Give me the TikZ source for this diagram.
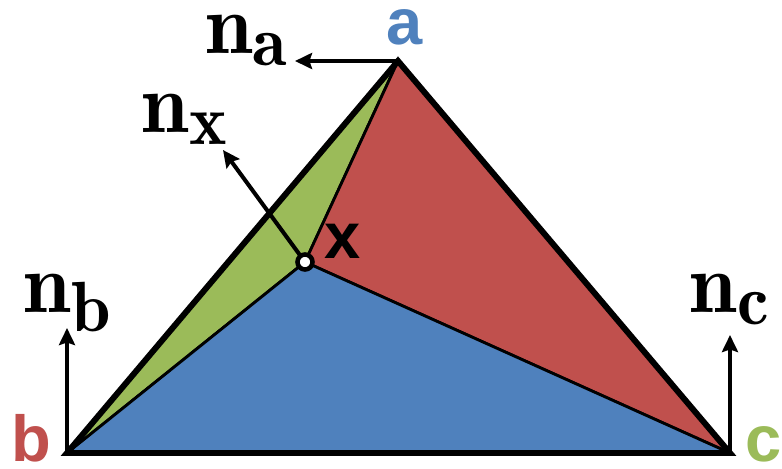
\documentclass[tikz,border=0pt]{standalone}
\usepackage{fontspec}
\newfontfamily\labelsans{Liberation Sans}
\usetikzlibrary{arrows.meta}

\definecolor{facegreen}{HTML}{9BBB59}
\definecolor{facered}{HTML}{C0504D}
\definecolor{faceblue}{HTML}{4F81BD}

\newcommand{\bignormal}[1]{\scalebox{1.95}{\Huge$\mathbf{n}_{\mathbf{#1}}$}}

\begin{document}
\begin{tikzpicture}[
    x=0.02cm, y=-0.02cm,
    face/.style={fill=#1, draw=black, line width=1.6pt, line join=round},
    edge/.style={draw=black, line width=3.4pt},
    normal/.style={-{Stealth[length=3.4mm, width=3.2mm, inset=0.5mm]}, line width=2.3pt},
    vlabel/.style={text=#1, font=\labelsans\bfseries\fontsize{37}{44}\selectfont,
        anchor=base, inner sep=0pt},
    nlabel/.style={anchor=base, inner sep=0pt}
]
\useasboundingbox (0,0) rectangle (782,468);

% Triangle corners and the inner point
\coordinate (a) at (398,61);
\coordinate (b) at (67,453);
\coordinate (c) at (730,453);
\coordinate (x) at (305,262);

% Tips of the normals
\coordinate (na) at (295,61);
\coordinate (nx) at (223,150);
\coordinate (nb) at (67,328);
\coordinate (nc) at (730,335);

% Three sub-triangles around x
\draw[face=facegreen] (a) -- (b) -- (x) -- cycle;
\draw[face=facered]   (a) -- (x) -- (c) -- cycle;
\draw[face=faceblue]  (b) -- (c) -- (x) -- cycle;

% Outer triangle
\draw[edge] (a) -- (b) -- (c) -- cycle;

% Normals
\draw[normal] (a) -- (na);
\draw[normal] (x) -- (nx);
\draw[normal] (b) -- (nb);
\draw[normal] (c) -- (nc);

\node[circle, draw=black, fill=white, line width=2.6pt, minimum size=0.3cm, inner sep=0pt]
    (xpt) at (x) {};

% Vertex labels
\node[vlabel=faceblue]  (la) at (405,44)  {a};
\node[vlabel=facered]   (lb) at (31,461)  {b};
\node[vlabel=facegreen] (lc) at (764,461) {c};
\node[vlabel=black]     (lx) at (343,258) {x};

% Normal labels
\node[nlabel] (lna) at (247,53)  {\bignormal{a}};
\node[nlabel] (lnx) at (185,132) {\bignormal{x}};
\node[nlabel] (lnb) at (68,312)  {\bignormal{b}};
\node[nlabel] (lnc) at (730,312) {\bignormal{c}};

\end{tikzpicture}
\end{document}
